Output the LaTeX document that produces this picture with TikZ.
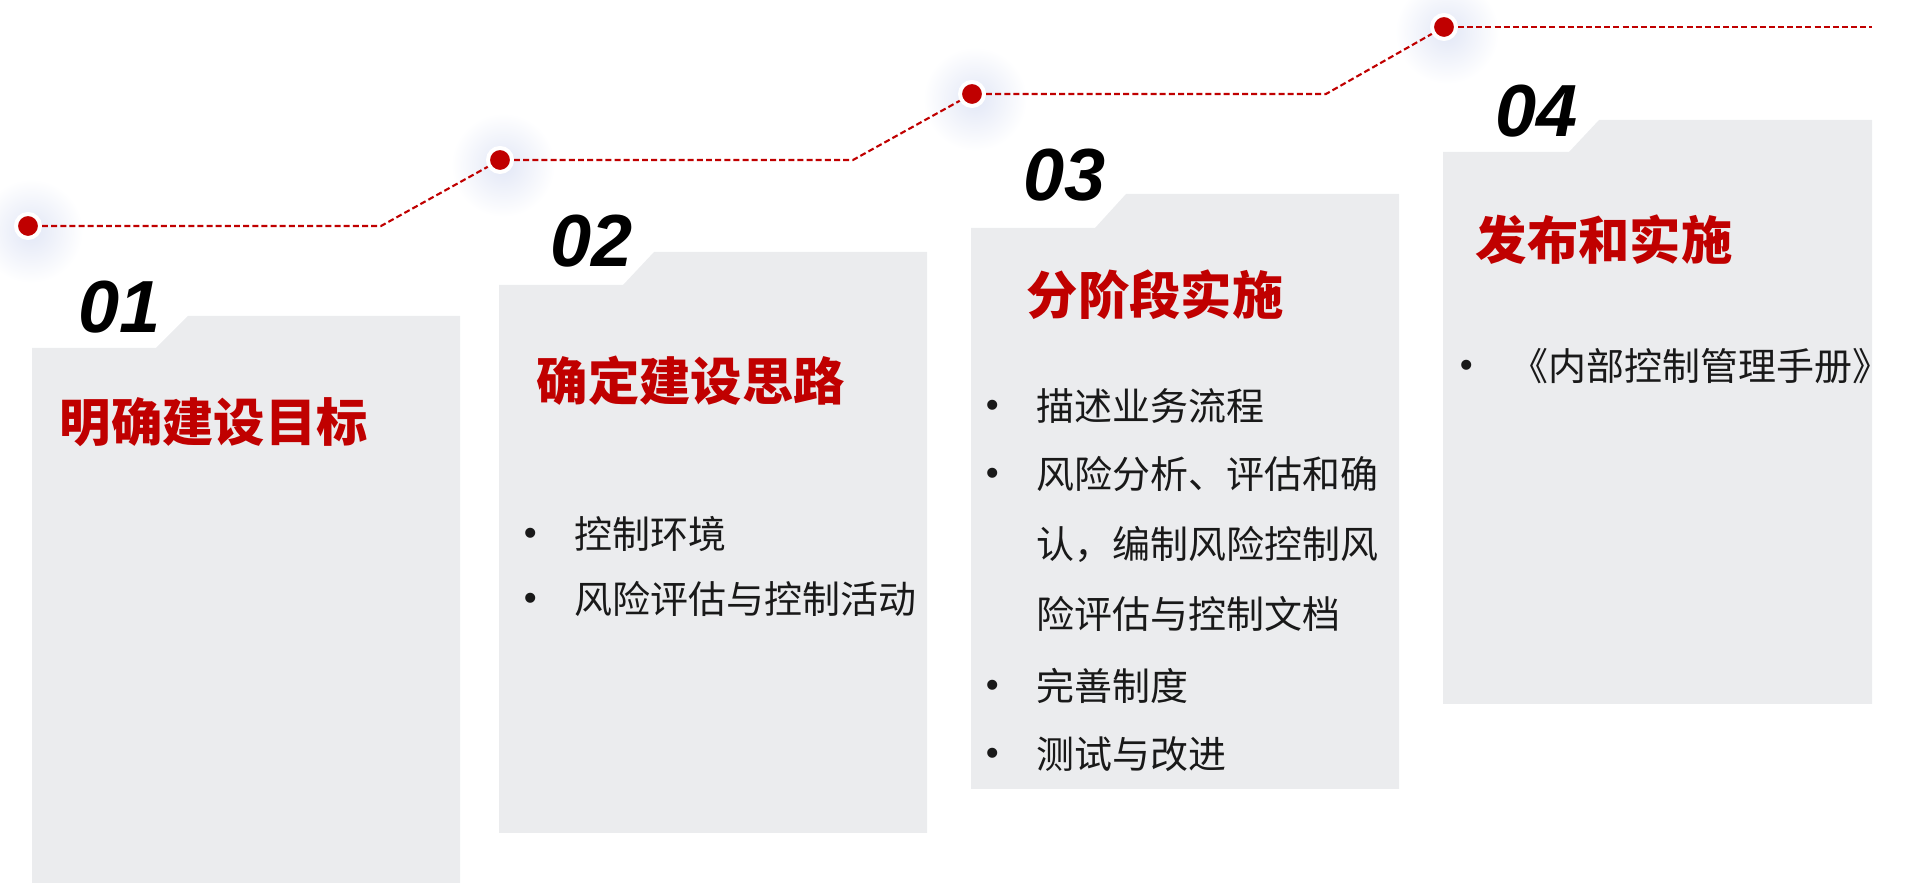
\documentclass[tikz,border=0pt]{standalone}
\usepackage{fontspec}
\setmainfont{Liberation Sans}
\newfontfamily\cjk{Noto Sans CJK SC}
\usepackage{xcolor}
\usepackage{tikz}
\usetikzlibrary{positioning, calc}
\definecolor{stepred}{HTML}{C00000}
\definecolor{cardgray}{HTML}{EBECEE}
\definecolor{glowblue}{HTML}{E2E7F6}
\tikzstyle{dot} = [circle,
fill=stepred, draw=white,
line width=0.4mm,
minimum size=2.4mm, inner sep=0pt]
\tikzstyle{trail} = [stepred, line width=0.6pt, dash pattern=on 1.7pt off 0.9pt]
\tikzstyle{card} = [fill=cardgray]
\tikzstyle{num} = [anchor=base west, inner sep=0pt,
font=\fontsize{21}{21}\selectfont\bfseries\itshape]
\tikzstyle{title} = [anchor=base west, inner sep=0pt, text=stepred,
font=\cjk\bfseries\fontsize{14.6}{14.6}\selectfont]
\tikzstyle{item} = [anchor=base west, inner sep=0pt, text=black!90,
font=\cjk\fontsize{10.8}{10.8}\selectfont]
\newcommand{\itembul}{\llap{\raisebox{0.1em}{\rmfamily\fontsize{10.5}{10.5}\selectfont\textbullet}\hspace{3.8mm}}}

\begin{document}
\begin{tikzpicture}[x=0.01cm, y=-0.01cm]
                \useasboundingbox (0,0) rectangle (1920,883);

                % soft halo under the dots
                \shade[inner color=glowblue, outer color=white] (31,231) circle (5.2mm);
                \shade[inner color=glowblue, outer color=white] (503,165) circle (5.2mm);
                \shade[inner color=glowblue, outer color=white] (975,99) circle (5.2mm);
                \shade[inner color=glowblue, outer color=white] (1447,32) circle (5.2mm);

                \fill[card] (32,348) -- (156,348) -- (188,316) -- (460,316) -- (460,883) -- (32,883) -- cycle;
                \fill[card] (499,285) -- (623,285) -- (654,252) -- (927,252) -- (927,833) -- (499,833) -- cycle;
                \fill[card] (971,228) -- (1095,228) -- (1126,194) -- (1399,194) -- (1399,789) -- (971,789) -- cycle;
                \fill[card] (1443,152) -- (1569,152) -- (1599,120) -- (1872,120) -- (1872,704) -- (1443,704) -- cycle;

                \node (d1) [dot] at (28,226) {};
                \node (d2) [dot] at (500,160) {};
                \node (d3) [dot] at (972,94) {};
                \node (d4) [dot] at (1444,27) {};
                \coordinate (k1) at (381,226);
                \coordinate (k2) at (853,160);
                \coordinate (k3) at (1326,94);
                \coordinate (k4) at (1872,27);

                \draw [trail] (d1) -- (k1) -- (d2);
                \draw [trail] (d2) -- (k2) -- (d3);
                \draw [trail] (d3) -- (k3) -- (d4);
                \draw [trail] (d4) -- (k4);

                \node (n1) [num] at (78,333) {01};
                \node (n2) [num] at (550,267) {02};
                \node (n3) [num] at (1023,201) {03};
                \node (n4) [num] at (1495,137) {04};

                \node (t1) [title] at (59,442) {明确建设目标};
                \node (t2) [title] at (536,401) {确定建设思路};
                \node (t3) [title] at (1026,315) {分阶段实施};
                \node (t4) [title] at (1475,260) {发布和实施};

                \node (b2a) [item] at (574,549) {\itembul 控制环境};
                \node (b2b) [item] at (574,614) {\itembul 风险评估与控制活动};

                \node (b3a) [item] at (1036,421) {\itembul 描述业务流程};
                \node (b3b) [item] at (1036,489) {\itembul 风险分析、评估和确};
                \node (b3c) [item] at (1036,559) {认，编制风险控制风};
                \node (b3d) [item] at (1036,629) {险评估与控制文档};
                \node (b3e) [item] at (1036,701) {\itembul 完善制度};
                \node (b3f) [item] at (1036,769) {\itembul 测试与改进};

                \node (b4a) [item] at (1510,381) {\itembul 《内部控制管理手册》};
            \end{tikzpicture}
\end{document}
